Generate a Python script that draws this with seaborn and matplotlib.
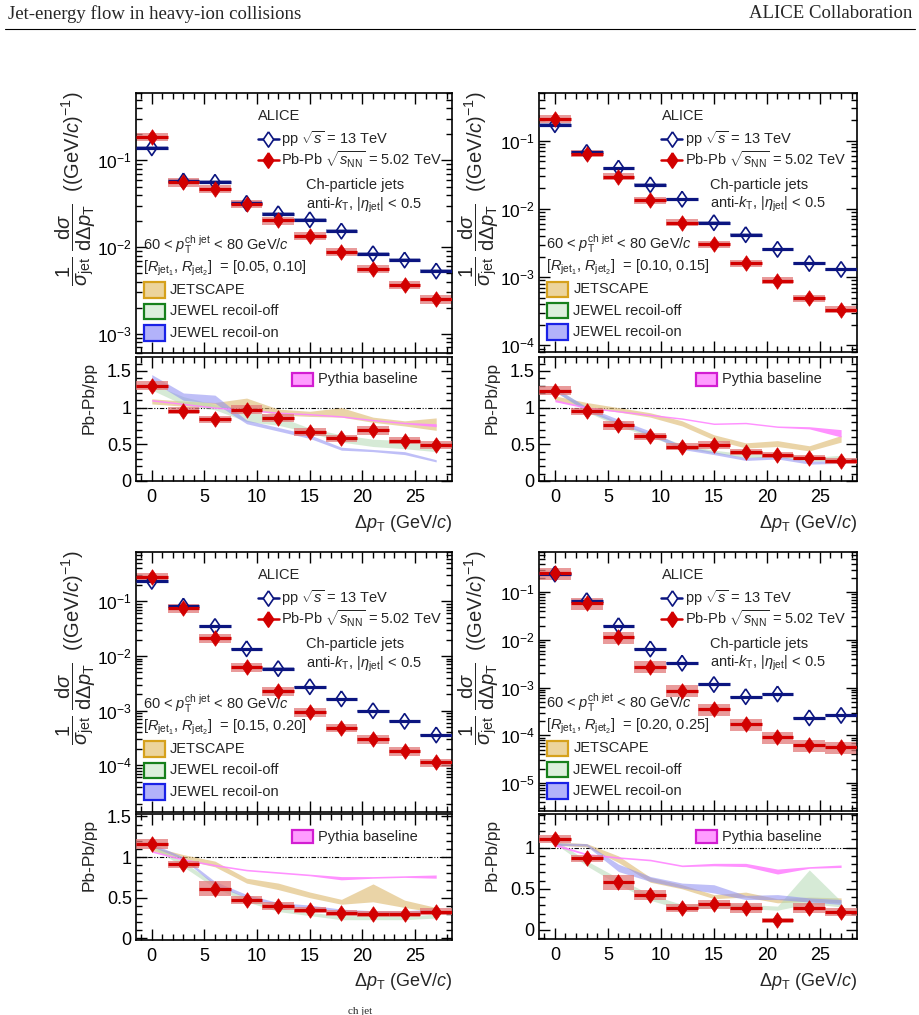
import numpy as np
import matplotlib
matplotlib.use("Agg")
import matplotlib.pyplot as plt
import seaborn as sns
from matplotlib.lines import Line2D
from matplotlib.patches import Rectangle
from matplotlib.ticker import MultipleLocator, LogLocator, NullFormatter, FuncFormatter

# ---------------------------------------------------------------- data
dpt = [0, 3, 6, 9, 12, 15, 18, 21, 24, 27]
r_bins = ["[0.05, 0.10]", "[0.10, 0.15]", "[0.15, 0.20]", "[0.20, 0.25]"]

# normalised spectra, pp and Pb-Pb
pp_1 = [0.140, 0.058, 0.056, 0.032, 0.0243, 0.0207, 0.0153, 0.0084, 0.0071, 0.0053]
pbpb_1 = [0.186, 0.056, 0.0467, 0.0316, 0.0203, 0.0136, 0.0088, 0.0056, 0.0037, 0.0025]
pp_2 = [0.172, 0.0674, 0.0397, 0.0226, 0.0139, 0.0063, 0.0042, 0.00256, 0.00159, 0.0013]
pbpb_2 = [0.209, 0.0645, 0.0298, 0.0133, 0.0063, 0.00305, 0.00162, 0.00089, 0.00049, 0.000335]
pp_3 = [0.233, 0.082, 0.0348, 0.0136, 0.0059, 0.00275, 0.00165, 0.0010, 0.00064, 0.00036]
pbpb_3 = [0.275, 0.0746, 0.0214, 0.0063, 0.0023, 0.00095, 0.00049, 0.0003, 0.000184, 0.000113]
pp_4 = [0.242, 0.067, 0.020, 0.0065, 0.00327, 0.00117, 0.00065, 0.00074, 0.000234, 0.000263]
pbpb_4 = [0.25, 0.0598, 0.0114, 0.00278, 0.00087, 0.00036, 0.000175, 0.000092, 0.000063, 0.000057]

# Pb-Pb/pp ratio and its systematic uncertainty
ratio_1 = [1.30, 0.96, 0.84, 0.97, 0.86, 0.67, 0.58, 0.69, 0.55, 0.49]
rsys_1 = [0.06, 0.05, 0.05, 0.06, 0.05, 0.05, 0.05, 0.06, 0.05, 0.05]
ratio_2 = [1.23, 0.95, 0.76, 0.61, 0.47, 0.49, 0.40, 0.36, 0.32, 0.27]
rsys_2 = [0.06, 0.05, 0.06, 0.05, 0.05, 0.05, 0.04, 0.04, 0.04, 0.04]
ratio_3 = [1.16, 0.91, 0.61, 0.47, 0.40, 0.35, 0.31, 0.30, 0.30, 0.33]
rsys_3 = [0.06, 0.04, 0.09, 0.05, 0.05, 0.04, 0.04, 0.04, 0.04, 0.04]
ratio_4 = [1.11, 0.87, 0.58, 0.43, 0.27, 0.31, 0.27, 0.12, 0.27, 0.22]
rsys_4 = [0.05, 0.04, 0.09, 0.06, 0.05, 0.06, 0.06, 0.03, 0.06, 0.05]

# model bands (lower / upper edges)
jetscape_lo_1 = [1.05, 1.02, 1.00, 0.99, 0.90, 0.88, 0.87, 0.80, 0.75, 0.69]
jetscape_hi_1 = [1.12, 1.09, 1.07, 1.13, 0.98, 0.95, 1.00, 0.87, 0.82, 0.86]
pythia_lo_1 = [1.09, 1.04, 0.99, 0.96, 0.92, 0.90, 0.87, 0.82, 0.78, 0.74]
pythia_hi_1 = [1.11, 1.06, 1.01, 0.98, 0.94, 0.92, 0.89, 0.84, 0.80, 0.78]
off_lo_1 = [1.24, 1.04, 0.97, 0.81, 0.76, 0.66, 0.53, 0.47, 0.44, 0.40]
off_hi_1 = [1.32, 1.15, 1.04, 0.95, 0.88, 0.72, 0.63, 0.57, 0.55, 0.48]
on_lo_1 = [1.36, 1.10, 1.06, 0.78, 0.68, 0.58, 0.42, 0.40, 0.36, 0.26]
on_hi_1 = [1.45, 1.20, 1.17, 0.83, 0.73, 0.63, 0.46, 0.43, 0.40, 0.29]

jetscape_lo_2 = [1.10, 1.00, 0.94, 0.87, 0.75, 0.56, 0.45, 0.47, 0.41, 0.53]
jetscape_hi_2 = [1.16, 1.07, 1.00, 0.93, 0.82, 0.63, 0.52, 0.55, 0.48, 0.62]
pythia_lo_2 = [1.08, 0.99, 0.94, 0.89, 0.84, 0.77, 0.78, 0.73, 0.71, 0.60]
pythia_hi_2 = [1.11, 1.01, 0.96, 0.91, 0.86, 0.79, 0.80, 0.75, 0.74, 0.70]
off_lo_2 = [1.22, 0.94, 0.75, 0.60, 0.45, 0.38, 0.32, 0.32, 0.27, 0.28]
off_hi_2 = [1.28, 1.00, 0.80, 0.65, 0.50, 0.42, 0.37, 0.38, 0.32, 0.35]
on_lo_2 = [1.22, 0.95, 0.78, 0.62, 0.43, 0.36, 0.28, 0.30, 0.23, 0.24]
on_hi_2 = [1.27, 1.01, 0.84, 0.68, 0.48, 0.40, 0.32, 0.34, 0.27, 0.28]

jetscape_lo_3 = [1.08, 0.97, 0.88, 0.68, 0.60, 0.50, 0.42, 0.45, 0.38, 0.32]
jetscape_hi_3 = [1.13, 1.03, 0.95, 0.74, 0.68, 0.57, 0.48, 0.67, 0.47, 0.38]
pythia_lo_3 = [1.06, 0.96, 0.89, 0.83, 0.80, 0.77, 0.72, 0.74, 0.75, 0.74]
pythia_hi_3 = [1.08, 0.98, 0.91, 0.85, 0.82, 0.79, 0.76, 0.76, 0.77, 0.78]
off_lo_3 = [1.12, 0.88, 0.62, 0.45, 0.33, 0.28, 0.23, 0.23, 0.23, 0.25]
off_hi_3 = [1.16, 0.94, 0.68, 0.50, 0.38, 0.32, 0.28, 0.28, 0.27, 0.30]
on_lo_3 = [1.13, 0.97, 0.65, 0.50, 0.40, 0.37, 0.32, 0.30, 0.30, 0.32]
on_hi_3 = [1.17, 1.00, 0.70, 0.54, 0.44, 0.41, 0.36, 0.34, 0.34, 0.36]

jetscape_lo_4 = [1.03, 1.01, 0.82, 0.58, 0.50, 0.38, 0.40, 0.33, 0.35, 0.33]
jetscape_hi_4 = [1.07, 1.05, 0.90, 0.64, 0.55, 0.43, 0.46, 0.38, 0.40, 0.39]
pythia_lo_4 = [1.02, 0.91, 0.87, 0.84, 0.77, 0.78, 0.77, 0.68, 0.75, 0.76]
pythia_hi_4 = [1.05, 0.93, 0.89, 0.86, 0.79, 0.81, 0.81, 0.74, 0.77, 0.79]
off_lo_4 = [1.05, 0.78, 0.55, 0.36, 0.25, 0.27, 0.26, 0.24, 0.32, 0.28]
off_hi_4 = [1.10, 0.84, 0.63, 0.43, 0.31, 0.33, 0.31, 0.29, 0.73, 0.35]
on_lo_4 = [1.03, 1.02, 0.71, 0.59, 0.51, 0.45, 0.37, 0.37, 0.34, 0.31]
on_hi_4 = [1.06, 1.05, 0.80, 0.65, 0.57, 0.55, 0.42, 0.43, 0.39, 0.37]

# ---------------------------------------------------------------- style
W, H = 920, 1015
NAVY = "#0b1580"
RED = "#d20000"
RED_BOX = "#e27a7a"
NAVY_BOX = "#a7acd2"
C_JETSCAPE = "#dfbd78"
C_OFF = "#b5dab5"
C_ON = "#8c8cf2"
C_PYTHIA = "#ff85ff"
DIAMOND = [(0, 1), (0.68, 0), (0, -1), (-0.68, 0), (0, 1)]

sns.set_theme(style="ticks")
plt.rcParams["font.family"] = ["Liberation Sans", "DejaVu Sans"]
plt.rcParams["mathtext.fontset"] = "custom"
plt.rcParams["mathtext.rm"] = "Liberation Sans"
plt.rcParams["mathtext.it"] = "Liberation Sans:italic"
plt.rcParams["mathtext.bf"] = "Liberation Sans:bold"
plt.rcParams["axes.linewidth"] = 1.2
plt.rcParams["axes.edgecolor"] = "black"


def px_rect(x0, y0, x1, y1):
    return [x0 / W, 1 - y1 / H, (x1 - x0) / W, (y1 - y0) / H]


def style_axes(ax):
    ax.tick_params(which="both", direction="in", top=True, right=True,
                   colors="black", width=1.0)
    ax.tick_params(which="major", length=8)
    ax.tick_params(which="minor", length=4)
    ax.xaxis.set_major_locator(MultipleLocator(5))
    ax.xaxis.set_minor_locator(MultipleLocator(1))
    ax.set_xlim(-1.5, 28.5)


def legend_box(ax, x, y, face, edge, label, w=0.068, h=0.06):
    ax.add_patch(Rectangle((x, y - h / 2), w, h, transform=ax.transAxes,
                           facecolor=face, edgecolor=edge, lw=1.6, zorder=6))
    ax.text(x + w + 0.016, y, label, transform=ax.transAxes, fontsize=10.5,
            va="center", ha="left", zorder=6)


def draw_panel(g, pp, pbpb, ratio, rsys, bands, rbin, ylim_top, ylim_ratio, pb_sys):
    x = np.array(dpt, dtype=float)
    pp = np.array(pp)
    pbpb = np.array(pbpb)
    ratio = np.array(ratio)
    rsys = np.array(rsys)

    # ---------- spectra
    ax = fig.add_axes(px_rect(g[0], g[1], g[2], g[3]))
    ax.set_yscale("log")
    ax.bar(x, pp * 0.1, bottom=pp * 0.95, width=3, color=NAVY_BOX, lw=0, zorder=1)
    ax.bar(x, pbpb * 2 * pb_sys, bottom=pbpb * (1 - pb_sys), width=3,
           color=RED_BOX, alpha=0.75, lw=0, zorder=1)
    ax.hlines(pp, x - 1.5, x + 1.5, color=NAVY, lw=2.3, zorder=3)
    ax.hlines(pbpb, x - 1.5, x + 1.5, color=RED, lw=2.3, zorder=3)
    sns.scatterplot(x=x, y=pp, ax=ax, marker=DIAMOND, s=125, facecolor="none",
                    edgecolor=NAVY, linewidth=1.2, zorder=4)
    sns.scatterplot(x=x, y=pbpb, ax=ax, marker=DIAMOND, s=125, color=RED,
                    edgecolor=RED, linewidth=0.5, zorder=5)
    style_axes(ax)
    ax.set_ylim(*ylim_top)
    ax.yaxis.set_major_locator(LogLocator(base=10, numticks=10))
    ax.yaxis.set_minor_locator(LogLocator(base=10, subs=np.arange(2, 10), numticks=20))
    ax.yaxis.set_minor_formatter(NullFormatter())
    ax.tick_params(axis="x", labelbottom=False)
    ax.tick_params(axis="y", labelsize=12.5, pad=3)
    ax.set_xlabel("")
    ax.set_ylabel("")

    # annotations
    ax.text(0.386, 0.912, "ALICE", transform=ax.transAxes, fontsize=10.5, va="center")
    for yy, col, face, lab in [(0.823, NAVY, "none", r"pp $\sqrt{s}$ = 13 TeV"),
                               (0.742, RED, RED, r"Pb-Pb $\sqrt{s_{\rm NN}}$ = 5.02 TeV")]:
        ax.plot([0.385, 0.451], [yy, yy], transform=ax.transAxes, color=col, lw=1.8)
        ax.plot([0.418], [yy], transform=ax.transAxes, marker=DIAMOND, ms=11,
                mfc=face if face != "none" else "white", mec=col, mew=1.2, ls="none")
        ax.text(0.458, yy, lab, transform=ax.transAxes, fontsize=10.5, va="center")
    ax.text(0.538, 0.646, "Ch-particle jets", transform=ax.transAxes,
            fontsize=10.5, va="center")
    ax.text(0.538, 0.569, r"anti-$k_{\rm T}$, |$\eta_{\rm jet}$| < 0.5",
            transform=ax.transAxes, fontsize=10.5, va="center")
    ax.text(0.022, 0.415, r"60 < $p_{\rm T}^{\rm ch\ jet}$ < 80 GeV/$c$",
            transform=ax.transAxes, fontsize=10.5, va="center")
    ax.text(0.022, 0.327, r"[$R_{{\rm jet}_{1}}$, $R_{{\rm jet}_{2}}$]  = " + rbin,
            transform=ax.transAxes, fontsize=10.5, va="center")
    legend_box(ax, 0.024, 0.242, "#ecd49c", "#d6a11c", "JETSCAPE")
    legend_box(ax, 0.024, 0.160, "#dcefdc", "#17801c", "JEWEL recoil-off")
    legend_box(ax, 0.024, 0.078, "#b2b2fa", "#1a22e6", "JEWEL recoil-on")

    fig.text((g[0] - 60) / W, 1 - (g[1] - 2) / H,
             r"$\dfrac{1}{\sigma_{\rm jet}}\ \dfrac{{\rm d}\sigma}{{\rm d}\Delta p_{\rm T}}$  ((GeV/$c$)$^{-1}$)",
             rotation=90, ha="center", va="top", fontsize=14.5)

    # ---------- ratio
    axr = fig.add_axes(px_rect(g[0], g[4], g[2], g[5]))
    axr.axhline(1, color="black", lw=0.8, ls=(0, (4, 1.5, 1, 1.5, 1, 1.5)), zorder=0)
    jl, jh, pl, ph, ol, oh, nl, nh = bands
    axr.fill_between(x, jl, jh, color=C_JETSCAPE, alpha=0.65, lw=0, zorder=1)
    axr.fill_between(x, ol, oh, color=C_OFF, alpha=0.55, lw=0, zorder=1)
    axr.fill_between(x, nl, nh, color=C_ON, alpha=0.55, lw=0, zorder=2)
    axr.fill_between(x, pl, ph, color=C_PYTHIA, alpha=0.9, lw=0, zorder=2)
    axr.bar(x, 2 * rsys, bottom=ratio - rsys, width=3, color=RED_BOX,
            alpha=0.75, lw=0, zorder=3)
    axr.hlines(ratio, x - 1.5, x + 1.5, color=RED, lw=2.3, zorder=4)
    sns.scatterplot(x=x, y=ratio, ax=axr, marker=DIAMOND, s=125, color=RED,
                    edgecolor=RED, linewidth=0.5, zorder=5)
    style_axes(axr)
    axr.set_ylim(*ylim_ratio)
    axr.yaxis.set_major_locator(MultipleLocator(0.5))
    axr.yaxis.set_minor_locator(MultipleLocator(0.1))
    axr.yaxis.set_major_formatter(FuncFormatter(lambda v, _: f"{v:g}"))
    axr.tick_params(axis="both", labelsize=13, pad=6)
    axr.tick_params(axis="y", pad=3)
    axr.set_xlabel("")
    axr.set_ylabel("")
    legend_box(axr, 0.494, 0.82, "#ff9cff", "#d21ed2", "Pythia baseline",
               w=0.066, h=0.1)
    fig.text((g[0] - 47) / W, 1 - (g[4] + 5) / H, "Pb-Pb/pp", rotation=90,
             ha="center", va="top", fontsize=12.5)
    fig.text(g[2] / W, 1 - (g[5] + 42) / H, r"$\Delta p_{\rm T}$ (GeV/$c$)",
             ha="right", va="center", fontsize=13)


fig = plt.figure(figsize=(W / 100, H / 100), dpi=100)

# header
fig.text(8 / W, 1 - 14 / H, "Jet-energy flow in heavy-ion collisions",
         family=["Liberation Serif", "DejaVu Serif"], fontsize=13.5, va="center")
fig.text(912 / W, 1 - 14 / H, "ALICE Collaboration",
         family=["Liberation Serif", "DejaVu Serif"], fontsize=13.5, va="center", ha="right")
fig.add_artist(Line2D([5 / W, 915 / W], [1 - 29 / H, 1 - 29 / H], color="black", lw=0.8))

# panel geometry: x0, top, x1, mid, ratio top, bottom (pixels)
geoms = [(136, 93, 452, 353, 357, 481),
         (539, 93, 857, 352, 357, 481),
         (136, 552, 452, 812, 814, 940),
         (539, 552, 857, 811, 814, 939)]

draw_panel(geoms[0], pp_1, pbpb_1, ratio_1, rsys_1,
           (jetscape_lo_1, jetscape_hi_1, pythia_lo_1, pythia_hi_1,
            off_lo_1, off_hi_1, on_lo_1, on_hi_1),
           r_bins[0], (6e-4, 0.6), (0, 1.69), 0.11)
draw_panel(geoms[1], pp_2, pbpb_2, ratio_2, rsys_2,
           (jetscape_lo_2, jetscape_hi_2, pythia_lo_2, pythia_hi_2,
            off_lo_2, off_hi_2, on_lo_2, on_hi_2),
           r_bins[1], (8e-5, 0.5), (0, 1.69), 0.12)
draw_panel(geoms[2], pp_3, pbpb_3, ratio_3, rsys_3,
           (jetscape_lo_3, jetscape_hi_3, pythia_lo_3, pythia_hi_3,
            off_lo_3, off_hi_3, on_lo_3, on_hi_3),
           r_bins[2], (1.4e-5, 0.8), (-0.02, 1.53), 0.18)
draw_panel(geoms[3], pp_4, pbpb_4, ratio_4, rsys_4,
           (jetscape_lo_4, jetscape_hi_4, pythia_lo_4, pythia_hi_4,
            off_lo_4, off_hi_4, on_lo_4, on_hi_4),
           r_bins[3], (2.6e-6, 0.7), (-0.11, 1.41), 0.28)

# cut caption fragment at the page bottom
fig.text(348 / W, 1 - 1011 / H, "ch jet", family=["Liberation Serif", "DejaVu Serif"],
         fontsize=8, va="center")

fig.savefig("out.png", dpi=100)
